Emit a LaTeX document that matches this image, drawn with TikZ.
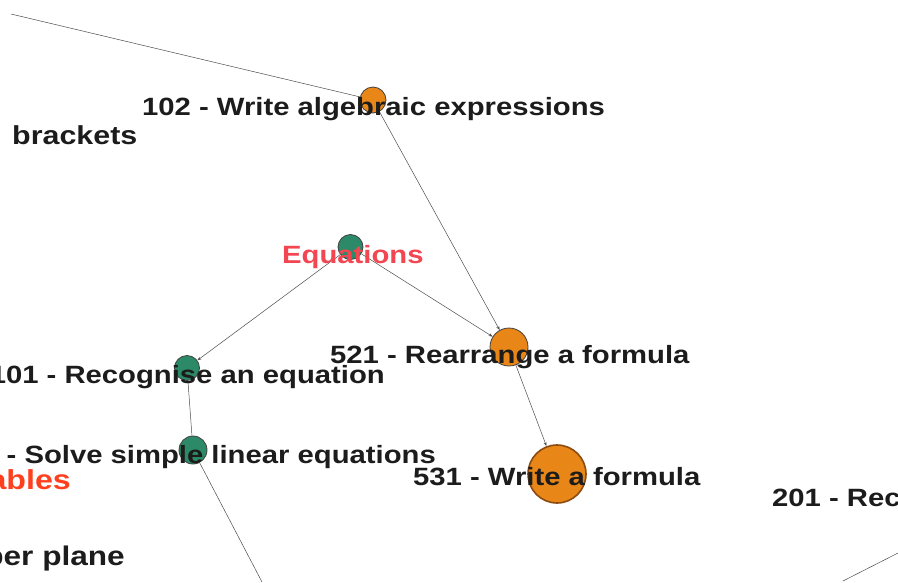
\documentclass[tikz,border=0pt]{standalone}
\usepackage{fontspec}
\newfontfamily\labfont{Liberation Sans}[FakeStretch=1.17]
\usetikzlibrary{arrows.meta}
\definecolor{nodeorange}{RGB}{232,134,24}
\definecolor{nodegreen}{RGB}{44,138,104}
\definecolor{eqred}{RGB}{242,70,82}
\definecolor{varred}{RGB}{255,64,30}
\definecolor{labgray}{RGB}{28,28,28}
\definecolor{rimbrown}{RGB}{140,75,15}
\begin{document}
\begin{tikzpicture}[x=1pt,y=-1pt,
  vert/.style={circle,draw=black!75,line width=0.8pt,inner sep=0pt},
  orangev/.style={vert,fill=nodeorange},
  greenv/.style={vert,fill=nodegreen},
  lab/.style={font=\labfont\bfseries\fontsize{25}{25}\selectfont,text=labgray,inner sep=0pt},
  biglab/.style={lab,font=\labfont\bfseries\fontsize{#1}{#1}\selectfont},
  edge/.style={draw=black!70,line width=0.5pt},
  dedge/.style={edge,-{Stealth[length=4pt,width=3pt]}}]
\useasboundingbox (0,0) rectangle (898,582);
\clip (0,0) rectangle (898,582);
% vertices
\node[orangev,minimum size=26pt] (v102) at (373,100) {};
\node[greenv,minimum size=25pt] (veq) at (350.5,247) {};
\node[orangev,minimum size=38pt] (v521) at (509,347) {};
\node[greenv,minimum size=25pt] (v101) at (187,368) {};
\node[greenv,minimum size=28pt] (vsolve) at (193,450) {};
\node[orangev,minimum size=58pt,draw=rimbrown,line width=1.6pt] (v531) at (557,474) {};
\coordinate (tl) at (11,14);
\coordinate (bot) at (262,582);
\coordinate (br1) at (843,581);
\coordinate (br2) at (898,553);
% edges
\draw[edge] (tl) -- (v102);
\draw[dedge] (v102) -- (v521);
\draw[dedge] (veq) -- (v521);
\draw[dedge] (veq) -- (v101);
\draw[edge] (v101) -- (vsolve);
\draw[edge] (vsolve) -- (bot);
\draw[dedge] (v521) -- (v531);
\draw[edge] (br1) -- (br2);
% labels
\node[lab,anchor=base west] (l102) at (142,115) {102 - Write algebraic expressions};
\node[biglab=26,anchor=base west] (lbr) at (12,144) {brackets};
\node[lab,anchor=base west,text=eqred] (leq) at (282,263) {Equations};
\node[lab,anchor=base west] (l521) at (330,363) {521 - Rearrange a formula};
\node[lab,anchor=base east] (l101) at (385,383) {101 - Recognise an equation};
\node[lab,anchor=base east] (lsolve) at (436,463) {- Solve simple linear equations};
\node[biglab=27.5,anchor=base east,text=varred] (lvar) at (71,489) {ables};
\node[biglab=27,anchor=base east] (lplane) at (125,565) {ber plane};
\node[lab,anchor=base west] (l531) at (413,485) {531 - Write a formula};
\node[lab,anchor=base west] (l201) at (772,506) {201 - Rec};
\end{tikzpicture}
\end{document}
